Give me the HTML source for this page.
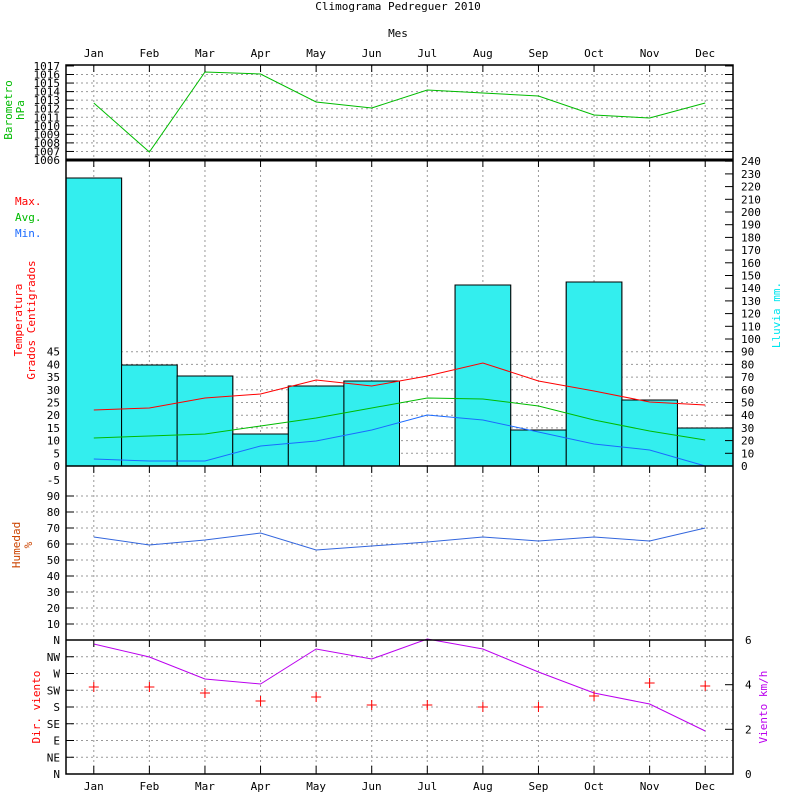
<!DOCTYPE html><html><head><style>body{margin:0;background:#fff}svg{display:block;font-family:"DejaVu Sans Mono","Liberation Mono",monospace;font-size:11px}</style></head><body>
<svg id="s" width="800" height="800" xmlns="http://www.w3.org/2000/svg"></svg>
<script>
const L=66,R=733,T=65,B=774,W=(R-L)/12;
let o='';
const X=i=>L+W*(i+0.5);
const line=(x1,y1,x2,y2,c,w,d)=>o+=`<line x1="${x1}" y1="${y1}" x2="${x2}" y2="${y2}" stroke="${c}" stroke-width="${w||1}"${d?` stroke-dasharray="${d}"`:''}/>`;
const text=(x,y,t,c,a,rot)=>o+=`<text x="${x}" y="${y}" fill="${c||'#000'}" text-anchor="${a||'middle'}"${rot?` transform="rotate(-90 ${x} ${y})"`:''}>${t}</text>`;
const poly=(pts,c)=>o+=`<polyline points="${pts.map((y,i)=>X(i)+','+y).join(' ')}" fill="none" stroke="${c}"/>`;
const g='#999',gd='2,3';
// rain bars
const rain=[178,365,376,434,386,381,466,285,430,282,400,428];
rain.forEach((y,i)=>{if(y<466)o+=`<rect x="${L+W*i}" y="${y}" width="${W}" height="${466-y}" fill="#33eeee" stroke="#000"/>`;});
// horizontal grids
for(let k=1;k<=10;k++)line(L,160-k*8.55,R,160-k*8.55,g,1,gd);
for(let k=1;k<=9;k++){let y=466-k*12.7;line(L,y,R,y,g,1,gd);}
for(let k=1;k<=9;k++){let y=640-k*16;line(L,y,R,y,g,1,gd);}
for(let k=1;k<=7;k++){let y=640+k*16.75;line(L,y,R,y,g,1,gd);}
// vertical grids
for(let i=0;i<12;i++)line(X(i),T,X(i),B,g,1,gd);
// rebar outlines over grid
rain.forEach((y,i)=>{if(y<466)o+=`<rect x="${L+W*i}" y="${y}" width="${W}" height="${466-y}" fill="#33eeee" stroke="#000"/>`;});
// series
poly([103,152,72,74,102,108,90,93,96,115,118,103],'#00bb00');
poly([410,408,398,394,380,386,376,363,381,391,402,405],'#ff0000');
poly([438,436,434,426,418,408,398,399,406,420,431,440],'#00bb00');
poly([459,461,461,446,441,430,415,420,432,444,450,466],'#1a6aff');
poly([537,545,540,533,550,546,542,537,541,537,541,528],'#3366dd');
poly([644,657,679,684,649,659,639,649,672,693,704,731],'#bb00ee');
[687,687,693,701,697,705,705,707,707,696,683,686].forEach((y,i)=>{line(X(i)-5,y,X(i)+5,y,'#f00');line(X(i),y-5,X(i),y+5,'#f00');});
// frame
o+=`<rect x="${L}" y="${T}" width="${R-L}" height="${B-T}" fill="none" stroke="#000" stroke-width="1.5"/>`;
line(L,160,R,160,'#000',3);line(L,466,R,466,'#000',1.5);line(L,640,R,640,'#000',1.5);
for(let i=0;i<12;i++){line(X(i),T,X(i),T+7,'#000');line(X(i),160,X(i),167,'#000');line(X(i),466,X(i),473,'#000');line(X(i),640,X(i),647,'#000');line(X(i),B,X(i),B-8,'#000');
text(X(i),57,['Jan','Feb','Mar','Apr','May','Jun','Jul','Aug','Sep','Oct','Nov','Dec'][i]);
text(X(i),790,['Jan','Feb','Mar','Apr','May','Jun','Jul','Aug','Sep','Oct','Nov','Dec'][i]);}
// baro labels
for(let k=0;k<=11;k++){let y=160-k*8.55;text(60,y+4,1006+k,'#000','end');line(L,y,L+8,y,'#000');line(R,y,R-8,y,'#000');}
// temp labels
for(let k=0;k<=9;k++){let y=466-k*12.7;text(60,y+4,k*5,'#000','end');}
// rain right
for(let k=0;k<=24;k++){let y=466-k*12.7;text(741,y+4,k*10,'#000','start');line(R,y,R-8,y,'#000');}
// humidity
text(60,484,'-5','#000','end');
for(let k=1;k<=9;k++){let y=640-k*16;text(60,y+4,k*10,'#000','end');line(L,y,L+8,y,'#000');}
// wind dirs
['N','NW','W','SW','S','SE','E','NE','N'].forEach((t,k)=>{let y=640+k*16.75;text(60,y+4,t,'#000','end');line(L,y,L+8,y,'#000');});
[[6,640],[4,684.7],[2,729.3],[0,774]].forEach(([v,y])=>{text(745,y+4,v,'#000','start');line(R,y,R-8,y,'#000');});
// titles
text(398,10,'Climograma Pedreguer 2010');text(398,37,'Mes');
text(12,110,'Barometro','#00bb00','middle',1);text(24,110,'hPa','#00bb00','middle',1);
text(22,320,'Temperatura','#f00','middle',1);text(35,320,'Grados Centigrados','#f00','middle',1);
text(15,205,'Max.','#f00','start');text(15,221,'Avg.','#00bb00','start');text(15,237,'Min.','#1a6aff','start');
text(20,545,'Humedad','#cc4400','middle',1);text(32,545,'%','#cc4400','middle',1);
text(40,707,'Dir. viento','#f00','middle',1);
text(780,315,'Lluvia mm.','#00e5ee','middle',1);
text(767,707,'Viento km/h','#bb00ee','middle',1);
document.getElementById('s').innerHTML=o;
</script></body></html>
